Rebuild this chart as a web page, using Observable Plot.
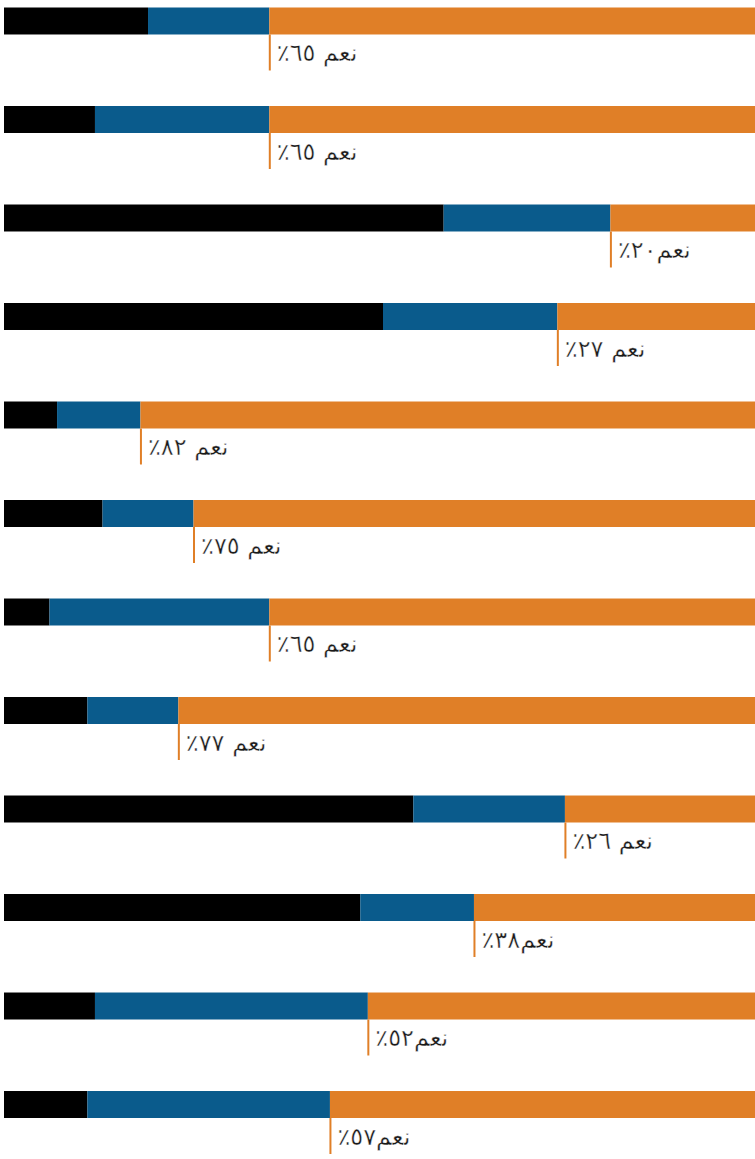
<!DOCTYPE html>
<html>
<head>
<meta charset="utf-8">
<script src="https://cdn.jsdelivr.net/npm/d3@7"></script>
<script src="https://cdn.jsdelivr.net/npm/@observablehq/plot@0.6"></script>
<style>
  html, body { margin: 0; padding: 0; background: #fff; overflow: hidden; }
</style>
</head>
<body>
<div id="chart"></div>
<script>
// Twelve survey rows, each split into three shares that add up to 100.
const rows = ["r1", "r2", "r3", "r4", "r5", "r6", "r7", "r8", "r9", "r10", "r11", "r12"];
const noShare    = [19, 12, 58, 50, 7, 13, 6, 11, 54, 47, 12, 11];
const otherShare = [16, 23, 22, 23, 11, 12, 29, 12, 20, 15, 36, 32];
const yesShare   = [65, 65, 20, 27, 82, 75, 65, 77, 26, 38, 52, 57];
// Rows whose label is set without a space between the word and the number.
const tightLabels = ["r3", "r10", "r11", "r12"];

const seriesNames = ["no", "other", "yes"];
const seriesColors = ["#000000", "#0a5b8c", "#e07f27"];

const arabicDigits = "٠١٢٣٤٥٦٧٨٩";
const toArabic = (n) => String(n).replace(/[0-9]/g, (c) => arabicDigits[+c]);

const long = rows.flatMap((row, i) => [
  {row, series: "no", value: noShare[i]},
  {row, series: "other", value: otherShare[i]},
  {row, series: "yes", value: yesShare[i]}
]);

const labels = rows.map((row, i) => ({
  row,
  yes: yesShare[i],
  text: "\u202B" + "نعم" + (tightLabels.includes(row) ? "" : " ") + toArabic(yesShare[i]) + "٪" + "\u202C"
}));

const chart = Plot.plot({
  width: 755,
  height: 1159,
  marginLeft: 4,
  marginRight: 0,
  marginTop: 7.5,
  marginBottom: 41,
  // the bars run slightly past the right edge of the frame
  x: {domain: [0, 100], range: [4, 762], axis: null},
  y: {domain: rows, axis: null, paddingInner: 0.726, paddingOuter: 0, align: 0, round: false},
  color: {domain: seriesNames, range: seriesColors},
  style: {fontFamily: "'DejaVu Sans', sans-serif", background: "#fff", overflow: "hidden"},
  marks: [
    Plot.barX(long, Plot.stackX({
      x: "value",
      y: "row",
      fill: "series",
      order: seriesNames
    })),
    // marker hanging below the start of the "yes" segment
    Plot.tickX(labels, {
      x: (d) => 100 - d.yes,
      y: "row",
      stroke: "#e07f27",
      strokeWidth: 2,
      insetTop: 27,
      insetBottom: -36
    }),
    Plot.text(labels, {
      x: (d) => 100 - d.yes,
      y: "row",
      text: "text",
      textAnchor: "start",
      lineAnchor: "middle",
      dx: 7,
      dy: 32,
      fontSize: 24,
      fill: "#1a1a1a",
      stroke: "#fff",
      strokeWidth: 0.4,
      paintOrder: "normal"
    })
  ]
});

document.getElementById("chart").appendChild(chart);
</script>
</body>
</html>
